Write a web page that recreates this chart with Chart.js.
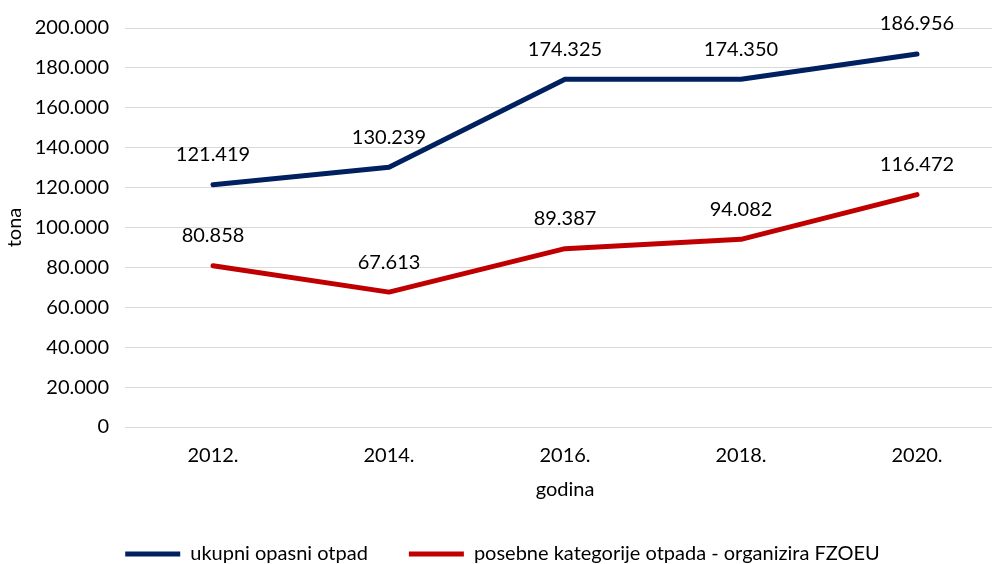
<!DOCTYPE html>
<html>
<head>
<meta charset="utf-8">
<script src="https://cdn.jsdelivr.net/npm/chart.js@4/dist/chart.umd.min.js"></script>
<style>
    html, body { margin: 0; padding: 0; background: #fff; overflow: hidden; }
    #frame { width: 992px; height: 564px; overflow: hidden; position: relative; }
    #box { width: 1016px; height: 574px; position: absolute; left: 0; top: 0; }
</style>
</head>
<body>
<div id="frame"><div id="box"><canvas id="wasteChart"></canvas></div></div>
<script>
const years = ['2012.', '2014.', '2016.', '2018.', '2020.'];
const totalWaste = [121419, 130239, 174325, 174350, 186956];
const specialWaste = [80858, 67613, 89387, 94082, 116472];
const yTicks = [0, 20000, 40000, 60000, 80000, 100000, 120000, 140000, 160000, 180000, 200000];

// thousands with a dot, like the source
const fmt = v => String(v).replace(/\B(?=(\d{3})+(?!\d))/g, '.');

Chart.defaults.font.family = 'Lato, "Open Sans", sans-serif';
Chart.defaults.font.size = 20;
Chart.defaults.color = '#000';

// value labels above each point
const pointLabels = {
    id: 'pointLabels',
    afterDatasetsDraw(chart) {
        const ctx = chart.ctx;
        ctx.save();
        ctx.font = '20px Lato, "Open Sans", sans-serif';
        ctx.fillStyle = '#000';
        ctx.textAlign = 'center';
        ctx.textBaseline = 'middle';
        chart.data.datasets.forEach((ds, i) => {
            chart.getDatasetMeta(i).data.forEach((pt, j) => {
                ctx.fillText(fmt(ds.data[j]), pt.x, pt.y - 30);
            });
        });
        ctx.restore();
    }
};

new Chart(document.getElementById('wasteChart'), {
    type: 'line',
    data: {
        labels: years,
        datasets: [
            {
                label: 'ukupni opasni otpad',
                data: totalWaste,
                borderColor: '#002060',
                backgroundColor: '#002060',
                borderWidth: 5,
                borderCapStyle: 'round',
                borderJoinStyle: 'round',
                pointRadius: 0,
                tension: 0
            },
            {
                label: 'posebne kategorije otpada - organizira FZOEU',
                data: specialWaste,
                borderColor: '#C00000',
                backgroundColor: '#C00000',
                borderWidth: 5,
                borderCapStyle: 'round',
                borderJoinStyle: 'round',
                pointRadius: 0,
                tension: 0
            }
        ]
    },
    options: {
        responsive: true,
        maintainAspectRatio: false,
        animation: false,
        events: [],
        layout: { padding: { top: 28, right: 11, left: 0, bottom: 0 } },
        plugins: {
            tooltip: { enabled: false },
            legend: {
                position: 'bottom',
                labels: {
                    usePointStyle: true,
                    pointStyle: 'line',
                    pointStyleWidth: 55,
                    padding: 41,
                    color: '#000',
                    font: { size: 20 }
                }
            }
        },
        scales: {
            x: {
                offset: true,
                grid: { display: false },
                border: { display: false },
                ticks: { padding: 9, color: '#000' },
                title: { display: true, text: 'godina', color: '#000', padding: { top: 4, bottom: 1 } },
                afterFit(scale) { scale.height = 76; }
            },
            y: {
                min: 0,
                max: 200000,
                afterBuildTicks(scale) { scale.ticks = yTicks.map(v => ({ value: v })); },
                grid: { color: '#d9d9d9', lineWidth: 1, drawTicks: false },
                border: { display: false },
                ticks: { padding: 16, color: '#000', callback: v => fmt(v) },
                title: { display: true, text: 'tona', color: '#000', padding: { top: 3, bottom: 4 } },
                afterFit(scale) { scale.width = 125; }
            }
        }
    },
    plugins: [pointLabels]
});
</script>
</body>
</html>
